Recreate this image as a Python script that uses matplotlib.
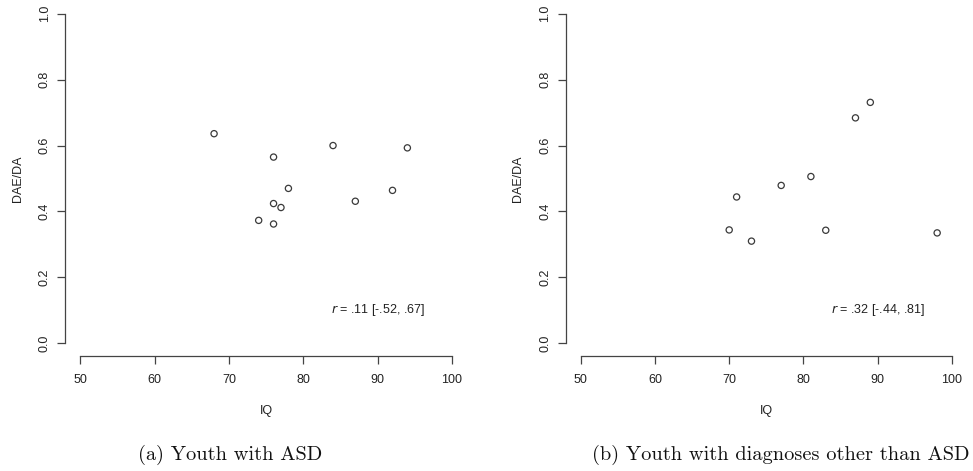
import matplotlib
matplotlib.use("Agg")
import matplotlib.pyplot as plt

# Youth with ASD
asdIQ = [68, 76, 84, 94, 78, 92, 87, 76, 77, 74, 76]
asdRatio = [0.636, 0.565, 0.600, 0.593, 0.470, 0.464, 0.431, 0.424, 0.412, 0.373, 0.362]

# Youth with diagnoses other than ASD
otherIQ = [89, 87, 81, 77, 71, 70, 83, 73, 98]
otherRatio = [0.731, 0.684, 0.506, 0.479, 0.444, 0.344, 0.343, 0.310, 0.335]

xTicks = [50, 60, 70, 80, 90, 100]
yTicks = [0.0, 0.2, 0.4, 0.6, 0.8, 1.0]
yTickLabels = ["0.0", "0.2", "0.4", "0.6", "0.8", "1.0"]

annotations = ["r = .11 [-.52, .67]", "r = .32 [-.44, .81]"]
captions = ["(a) Youth with ASD", "(b) Youth with diagnoses other than ASD"]

plt.rcParams['font.family'] = ['Liberation Sans', 'DejaVu Sans']

fig = plt.figure(figsize=(9.73, 4.71), dpi=100)

lineColor = "#444444"


def rPlot(ax, xs, ys, note):
    ax.scatter(xs, ys, s=20, facecolors="none", edgecolors="#3a3a3a",
               linewidths=0.9)
    ax.set_xlim(48, 102)
    ax.set_ylim(-0.04, 1.04)
    for side in ["top", "right"]:
        ax.spines[side].set_visible(False)
    ax.spines["left"].set_bounds(0, 1)
    ax.spines["bottom"].set_bounds(50, 100)
    for side in ["left", "bottom"]:
        ax.spines[side].set_color(lineColor)
        ax.spines[side].set_linewidth(0.9)
    ax.set_xticks(xTicks)
    ax.set_yticks(yTicks)
    ax.set_yticklabels(yTickLabels, rotation=90, va="center")
    ax.tick_params(length=5.5, width=0.9, color=lineColor, labelsize=9,
                   labelcolor="#222222")
    ax.tick_params(axis="x", pad=7)
    ax.tick_params(axis="y", pad=5)
    ax.set_xlabel("IQ", fontsize=9, color="#222222", labelpad=14)
    ax.set_ylabel("DAE/DA", fontsize=9, color="#222222", labelpad=11)
    parts = note.split(" ", 1)
    ax.text(90, 0.1, "$\\it{r}$ " + parts[1], fontsize=9, ha="center",
            va="center", color="#222222")
    ax.patch.set_visible(False)


ax1 = fig.add_axes([0.0672, 0.2431, 0.4126, 0.7558])
rPlot(ax1, asdIQ, asdRatio, annotations[0])

ax2 = fig.add_axes([0.5815, 0.2431, 0.4122, 0.7558])
rPlot(ax2, otherIQ, otherRatio, annotations[1])

fig.text(230 / 973, 1 - 455 / 471, captions[0], family="cmr10", fontsize=14.7,
         ha="center", va="center", color="#111111")
fig.text(781 / 973, 1 - 455 / 471, captions[1], family="cmr10", fontsize=14.7,
         ha="center", va="center", color="#111111")

fig.savefig("out.png", dpi=100)
